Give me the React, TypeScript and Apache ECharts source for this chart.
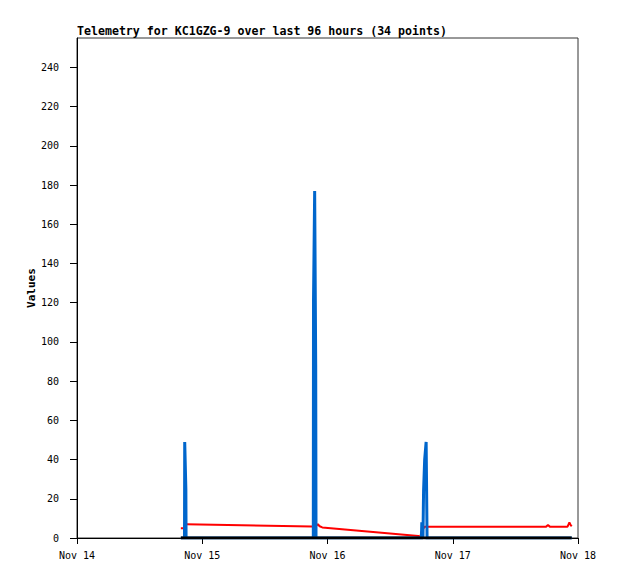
import React, { useEffect, useRef } from "react";
import * as echarts from "echarts";

// hours since Nov 14 00:00
const hours = [
  19.9, 20.6, 20.64, 20.86, 20.9,
  45.0, 45.28, 45.32, 45.54, 45.74, 45.8, 46.15, 46.5, 47.0,
  65.4, 65.8, 66.0, 66.07, 66.29, 66.41, 66.62, 66.9, 67.08, 67.3,
  89.9, 90.25, 90.6, 94.0, 94.35, 94.6, 94.8,
];
const redValues = [
  5.0, 5.0, 7.0, 7.0, 7.0,
  5.9, 5.9, 5.9, 5.9, 6.0, 6.2, 7.0, 6.0, 5.4,
  1.0, 0.6, 3.2, 3.5, 4.5, 5.0, 5.8, 5.8, 5.8, 5.8,
  5.8, 6.6, 5.8, 5.8, 8.0, 6.6, 6.0,
];
const blueValues = [
  0, 0, 49, 25, 0,
  0, 0, 121, 177, 88, 0, 0, 0, 0,
  0, 0, 0, 8, 0, 24, 40, 49, 0, 0,
  0, 0, 0, 0, 0, 0, 0,
];
const blackValues = [
  0, 0, 0, 0, 0,
  0, 0, 0, 0, 0, 0, 0, 0, 0,
  0, 0, 0, 0, 0, 0, 0, 0, 0, 0,
  0, 0, 0, 0, 0, 0, 0,
];
const dayLabels = ["Nov 14", "Nov 15", "Nov 16", "Nov 17", "Nov 18"];
const dayTicks = [0, 24, 48, 72, 96];
const yTicks = [0, 20, 40, 60, 80, 100, 120, 140, 160, 180, 200, 220, 240];
const titleText = "Telemetry for KC1GZG-9 over last 96 hours (34 points)";

const pairs = (vals: number[]) => hours.map((h, i) => [h, vals[i]]);

export default function App() {
  const ref = useRef<HTMLDivElement>(null);
  useEffect(() => {
    if (!ref.current) return;
    const chart = echarts.init(ref.current, null, { renderer: "svg" });
    const font = "DejaVu Sans Mono";
    chart.setOption({
      animation: false,
      backgroundColor: "#fff",
      title: {
        text: titleText,
        left: 77,
        top: 25,
        padding: 0,
        textStyle: { fontFamily: font, fontSize: 11.6, fontWeight: "bold", color: "#000" },
      },
      grid: {
        left: 77,
        right: 40,
        top: 38,
        bottom: 41,
        show: true,
        borderColor: "#333",
        borderWidth: 1,
        backgroundColor: "transparent",
      },
      xAxis: {
        type: "value",
        min: 0,
        max: 96,
        interval: 24,
        splitLine: { show: false },
        axisLine: { show: true, onZero: false, lineStyle: { color: "#000", width: 1 } },
        axisTick: { show: true, length: 6, lineStyle: { color: "#000" }, customValues: dayTicks },
        axisLabel: {
          customValues: dayTicks,
          formatter: (v: number) => dayLabels[Math.round(v / 24)] ?? "",
          fontFamily: font,
          fontSize: 10,
          color: "#000",
          margin: 12,
        },
      },
      yAxis: {
        type: "value",
        min: 0,
        max: 255,
        name: "Values",
        nameLocation: "middle",
        nameGap: 40,
        nameMoveOverlap: false,
        nameTextStyle: { fontFamily: font, fontSize: 11, fontWeight: "bold", color: "#000" },
        splitLine: { show: false },
        axisLine: { show: true, lineStyle: { color: "#000", width: 1 } },
        axisTick: { show: true, length: 7, lineStyle: { color: "#000" }, customValues: yTicks },
        axisLabel: {
          customValues: yTicks,
          fontFamily: font,
          fontSize: 10,
          color: "#000",
          margin: 18,
        },
      },
      series: [
        {
          type: "line",
          data: pairs(redValues),
          showSymbol: false,
          lineStyle: { color: "#ff0000", width: 2 },
          itemStyle: { color: "#ff0000" },
          z: 2,
        },
        {
          type: "line",
          data: pairs(blueValues),
          showSymbol: false,
          lineStyle: { color: "#0066cc", width: 3, join: "miter" },
          itemStyle: { color: "#0066cc" },
          z: 3,
        },
        {
          type: "line",
          data: pairs(blackValues),
          showSymbol: false,
          lineStyle: { color: "#000000", width: 3 },
          itemStyle: { color: "#000" },
          z: 4,
        },
      ],
    });
    return () => chart.dispose();
  }, []);
  return (
    <div
      ref={ref}
      style={{ position: "fixed", left: 0, top: 0, width: 618, height: 579, background: "#fff" }}
    />
  );
}
